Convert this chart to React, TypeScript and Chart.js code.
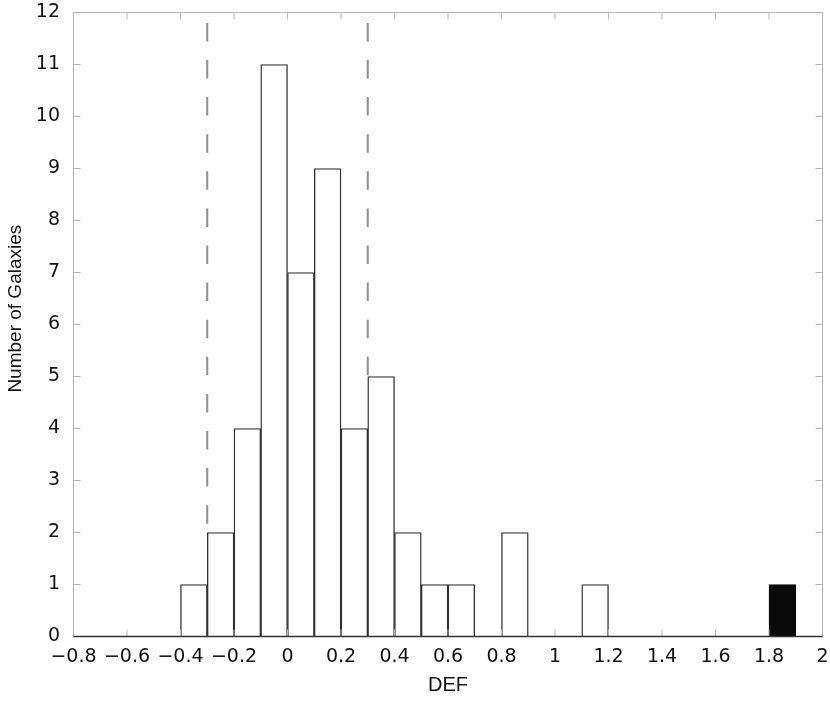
import React, { useEffect, useRef } from 'react';
import { Chart, registerables } from 'chart.js';

Chart.register(...registerables);

// Histogram bins (centre of each 0.1-wide DEF bin)
const binCenters = [
  -0.75, -0.65, -0.55, -0.45, -0.35, -0.25, -0.15, -0.05, 0.05, 0.15, 0.25, 0.35, 0.45, 0.55,
  0.65, 0.75, 0.85, 0.95, 1.05, 1.15, 1.25, 1.35, 1.45, 1.55, 1.65, 1.75, 1.85, 1.95,
];
// Open (white) bars
const openCounts = [0, 0, 0, 0, 1, 2, 4, 11, 7, 9, 4, 5, 2, 1, 1, 0, 2, 0, 0, 1, 0, 0, 0, 0, 0, 0, 0, 0];
// Filled (black) bars
const filledCounts = [0, 0, 0, 0, 0, 0, 0, 0, 0, 0, 0, 0, 0, 0, 0, 0, 0, 0, 0, 0, 0, 0, 0, 0, 0, 0, 1, 0];

// Dashed limits
const dashLeftX = -0.3;
const dashRightX = 0.3;
const dashTop = 11.8;
const dashLeftBottom = 2;
const dashRightBottom = 5;

const xMin = -0.8;
const xMax = 2;
const xStep = 0.2;
const yMin = 0;
const yMax = 12;
const yStep = 1;

const xTitle = 'DEF';
const yTitle = '\u00a0\u00a0\u00a0\u00a0\u00a0\u00a0Number of Galaxies';

const toPoints = (arr: number[]) =>
  binCenters.map((x, i) => ({ x, y: arr[i] > 0 ? arr[i] : null }));

const fmt = (v: number) => {
  const s = String(Number(v.toFixed(1)));
  return s.replace('-', '\u2212');
};

const framePlugin = {
  id: 'frame',
  afterDatasetsDraw(chart: any) {
    const { ctx, chartArea } = chart;
    const { left, right, top, bottom } = chartArea;
    const x = chart.scales.x;
    const y = chart.scales.y;
    ctx.save();
    ctx.strokeStyle = '#b5b8b8';
    ctx.lineWidth = 1;
    ctx.beginPath();
    ctx.moveTo(left, bottom);
    ctx.lineTo(left, top);
    ctx.lineTo(right, top);
    ctx.lineTo(right, bottom);
    ctx.stroke();
    const L = 7;
    ctx.beginPath();
    x.ticks.forEach((t: any) => {
      const px = x.getPixelForValue(t.value);
      ctx.moveTo(px, bottom);
      ctx.lineTo(px, bottom - L);
      ctx.moveTo(px, top);
      ctx.lineTo(px, top + L);
    });
    y.ticks.forEach((t: any) => {
      const py = y.getPixelForValue(t.value);
      ctx.moveTo(left, py);
      ctx.lineTo(left + L, py);
      ctx.moveTo(right, py);
      ctx.lineTo(right - L, py);
    });
    ctx.stroke();
    ctx.strokeStyle = '#333';
    ctx.lineWidth = 1.5;
    ctx.beginPath();
    ctx.moveTo(left, bottom);
    ctx.lineTo(right, bottom);
    ctx.stroke();
    ctx.restore();
  },
};

export default function App() {
  const ref = useRef<HTMLCanvasElement | null>(null);

  useEffect(() => {
    if (!ref.current) return;
    const chart = new Chart(ref.current, {
      type: 'bar',
      data: {
        datasets: [
          {
            type: 'line',
            data: [
              { x: dashLeftX, y: dashTop },
              { x: dashLeftX, y: dashLeftBottom },
            ],
            borderColor: '#8a8f8f',
            borderWidth: 2,
            borderDash: [18.5, 18.6],
            pointRadius: 0,
            fill: false,
            order: 0,
          } as any,
          {
            type: 'line',
            data: [
              { x: dashRightX, y: dashTop },
              { x: dashRightX, y: dashRightBottom },
            ],
            borderColor: '#8a8f8f',
            borderWidth: 2,
            borderDash: [18.5, 18.6],
            pointRadius: 0,
            fill: false,
            order: 0,
          } as any,
          {
            data: toPoints(openCounts) as any,
            backgroundColor: '#ffffff',
            borderColor: '#303333',
            borderWidth: 1.4,
            barPercentage: 1,
            categoryPercentage: 1,
            grouped: false,
            order: 1,
          },
          {
            data: toPoints(filledCounts) as any,
            backgroundColor: '#0a0a0a',
            borderColor: '#0a0a0a',
            borderWidth: 1.4,
            barPercentage: 1,
            categoryPercentage: 1,
            grouped: false,
            order: 1,
          },
        ],
      },
      options: {
        responsive: false,
        animation: false,
        layout: { padding: { left: 0, top: 12.5, right: 7.5, bottom: 0 } },
        plugins: { legend: { display: false }, tooltip: { enabled: false } },
        scales: {
          x: {
            type: 'linear',
            min: xMin,
            max: xMax,
            offset: false,
            grid: { display: false, drawTicks: false, offset: false },
            border: { display: false },
            ticks: {
              stepSize: xStep,
              padding: 9,
              color: '#111',
              font: { family: 'DejaVu Sans', size: 19 },
              callback: (v: any) => fmt(Number(v)),
              maxRotation: 0,
              autoSkip: false,
            },
            title: {
              display: true,
              text: xTitle,
              color: '#111',
              font: { family: 'Liberation Sans', size: 20 },
              padding: { top: 0, bottom: 6 },
            },
            afterFit: (s: any) => {
              s.height = 66.5;
              s.paddingLeft = 0;
              s.paddingRight = 0;
            },
          },
          y: {
            type: 'linear',
            min: yMin,
            max: yMax,
            grid: { display: false, drawTicks: false },
            border: { display: false },
            ticks: {
              stepSize: yStep,
              padding: 13.5,
              color: '#111',
              font: { family: 'DejaVu Sans', size: 19 },
            },
            title: {
              display: true,
              text: yTitle,
              color: '#111',
              font: { family: 'Liberation Sans', size: 19 },
              padding: { top: 4, bottom: 0 },
            },
            afterFit: (s: any) => {
              s.width = 73.5;
              s.paddingTop = 0;
              s.paddingBottom = 0;
            },
          },
        },
      },
      plugins: [framePlugin],
    });
    return () => chart.destroy();
  }, []);

  return (
    <div style={{ position: 'fixed', left: 0, top: 0, width: 830, height: 703 }}>
      <canvas ref={ref} width={830} height={703} />
    </div>
  );
}
